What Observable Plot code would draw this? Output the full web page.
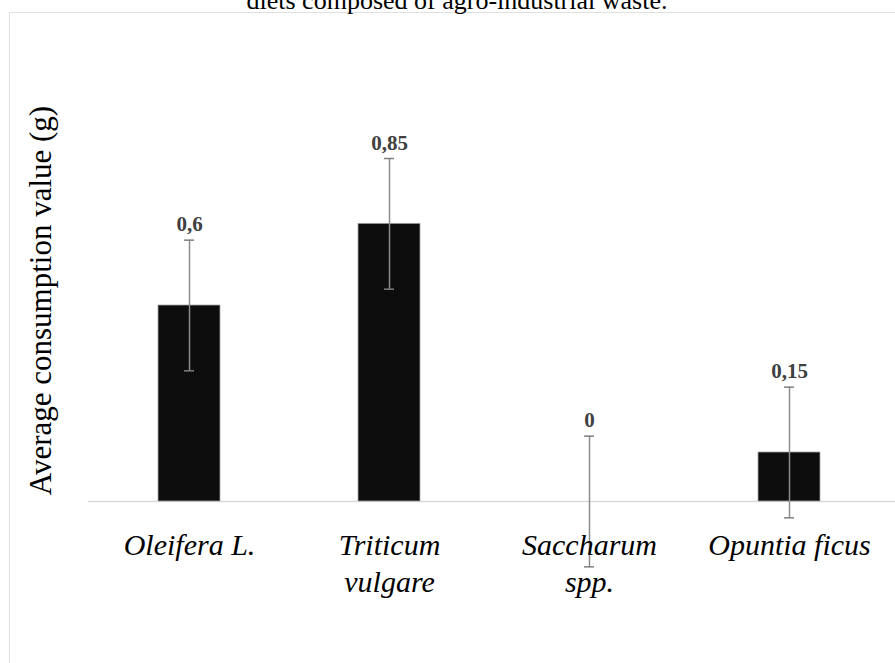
<!DOCTYPE html>
<html>
<head>
<meta charset="utf-8">
<script src="https://cdn.jsdelivr.net/npm/d3@7"></script>
<script src="https://cdn.jsdelivr.net/npm/@observablehq/plot@0.6"></script>
<style>
  html, body { margin: 0; padding: 0; background: #fff; overflow: hidden; }
  #wrap { position: relative; width: 895px; height: 663px; overflow: hidden; }
  #box { position: absolute; left: 9px; top: 12px; width: 1000px; height: 800px;
         border: 1.5px solid #e0e0e0; box-sizing: border-box; }
  #title { position: absolute; left: 0; width: 914px; top: -14px; text-align: center;
           font-family: "Liberation Serif", serif; font-size: 26px; color: #000; white-space: nowrap; }
  #chart { position: absolute; left: 0; top: 0; }
  #chart svg text { font-family: "Liberation Serif", serif; }
</style>
</head>
<body>
<div id="wrap">
  <div id="box"></div>
  <div id="title">diets composed of agro-industrial waste.</div>
  <div id="chart"></div>
</div>
<script>
const species = ["Oleifera L.", "Triticum vulgare", "Saccharum spp.", "Opuntia ficus"];
const tickLabels = ["Oleifera L.", "Triticum\nvulgare", "Saccharum\nspp.", "Opuntia ficus"];
const means = [0.6, 0.85, 0, 0.15];
const errors = [0.2, 0.2, 0.2, 0.2];
const valueLabels = ["0,6", "0,85", "0", "0,15"];
const yTitle = "Average consumption value (g)";

const data = species.map((s, i) => ({
  species: s, tick: tickLabels[i], mean: means[i], err: errors[i], label: valueLabels[i],
  lo: means[i] - errors[i], hi: means[i] + errors[i]
}));

const serif = "'Liberation Serif', 'Times New Roman', serif";

const chart = Plot.plot({
  width: 895,
  height: 663,
  marginLeft: 88,
  marginRight: 5,
  marginTop: 109,
  marginBottom: 162,
  style: { background: "transparent", fontFamily: serif },
  x: { domain: species, paddingInner: 0.688, paddingOuter: 0.344, axis: null },
  y: { domain: [0, 1.2], axis: null },
  marks: [
    Plot.ruleY([0], { stroke: "#d9d9d9", strokeWidth: 1.5, insetRight: -5 }),
    Plot.barY(data, { x: "species", y: "mean", fill: "#0d0d0d", stroke: "#a6a6a6", strokeWidth: 0.8 }),
    Plot.ruleX(data, { x: "species", y1: "lo", y2: "hi", stroke: "#8c8c8c", strokeWidth: 1.5 }),
    Plot.tickY(data, { x: "species", y: "hi", stroke: "#7f7f7f", strokeWidth: 1.5, insetLeft: 26, insetRight: 26 }),
    Plot.tickY(data, { x: "species", y: "lo", stroke: "#7f7f7f", strokeWidth: 1.5, insetLeft: 26, insetRight: 26 }),
    Plot.text(data, { x: "species", y: "hi", text: "label", dy: -9, lineAnchor: "bottom",
      fontFamily: serif, fontSize: 21, fontWeight: "bold", fill: "#404040" }),
    Plot.text(data, { x: "species", y: 0, text: "tick", dy: 27, lineAnchor: "top", lineHeight: 1.23,
      fontFamily: serif, fontSize: 30, fontStyle: "italic", fill: "#000" }),
    Plot.text([yTitle], { frameAnchor: "left", textAnchor: "middle", lineAnchor: "middle", rotate: -90,
      dx: -47, dy: -5, fontFamily: serif, fontSize: 31, fill: "#000" })
  ]
});
document.getElementById("chart").appendChild(chart);
</script>
</body>
</html>
